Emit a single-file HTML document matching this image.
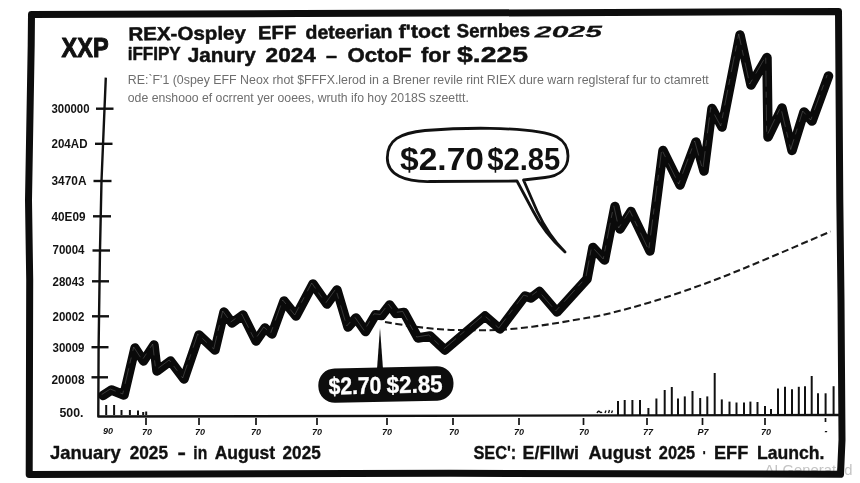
<!DOCTYPE html>
<html lang="en"><head><meta charset="utf-8"><title>XRP ETF chart</title>
<style>
html,body{margin:0;padding:0;background:#fff;width:860px;height:483px;overflow:hidden;}
svg{display:block;}
.b{font-family:"Liberation Sans",sans-serif;font-weight:bold;fill:#111;}
.g{font-family:"Liberation Sans",sans-serif;fill:#6e6e6e;}
.yl{font-family:"Liberation Sans",sans-serif;font-weight:bold;fill:#141414;font-size:12px;}
.xl{font-family:"Liberation Sans",sans-serif;font-weight:bold;font-style:italic;fill:#111;font-size:9px;}
</style></head><body>
<svg width="860" height="483" viewBox="0 0 860 483">
<rect width="860" height="483" fill="#fff"/>

<!-- watermark (under frame) -->
<text x="764.5" y="475" font-family="Liberation Sans, sans-serif" font-size="14" fill="#c4c4c4" textLength="88" lengthAdjust="spacingAndGlyphs">AI Generated</text>
<!-- frame -->
<path d="M31.5,14.5 L300,13.6 L560,12.7 L838.5,11.5 L839.8,200 L841,300 L842,440 L840.5,474.3 L450,473.3 L29.2,474.5 L29.7,280 L28.5,200 L31.2,45 Z" fill="none" stroke="#0d0d0d" stroke-width="7" stroke-linejoin="round"/>

<!-- titles -->
<text class="b" x="61.6" y="57.3" font-size="28.5" textLength="47" lengthAdjust="spacingAndGlyphs" stroke="#111" stroke-width="1.1" stroke-linejoin="round">XXP</text>
<g transform="rotate(-0.55 128 41)">
<text class="b" y="40.5" font-size="19" stroke="#111" stroke-width="0.5" stroke-linejoin="round"><tspan x="128.4" textLength="117.6" lengthAdjust="spacingAndGlyphs">REX-Ospley</tspan> <tspan x="258" textLength="38.3" lengthAdjust="spacingAndGlyphs">EFF</tspan> <tspan x="305.5" textLength="87" lengthAdjust="spacingAndGlyphs">deteerian</tspan> <tspan x="398.8" textLength="51.2" lengthAdjust="spacingAndGlyphs">f'toct</tspan> <tspan x="456.8" textLength="73.2" lengthAdjust="spacingAndGlyphs">Sernbes</tspan> <tspan x="534.9" y="41.3" font-size="16" font-style="italic" stroke-width="0.2" textLength="67.1" lengthAdjust="spacingAndGlyphs">2025</tspan></text>
</g>
<text class="b" y="61.5" font-size="21" stroke="#111" stroke-width="0.5" stroke-linejoin="round"><tspan x="127.7" y="60.3" font-size="18.5" textLength="53" lengthAdjust="spacingAndGlyphs">iFFIPY</tspan> <tspan x="187.8" y="61.5" textLength="68" lengthAdjust="spacingAndGlyphs">Janury</tspan> <tspan x="265.6" textLength="50.2" lengthAdjust="spacingAndGlyphs">2024</tspan> <tspan x="326" textLength="11" lengthAdjust="spacingAndGlyphs">–</tspan> <tspan x="347.4" textLength="64.2" lengthAdjust="spacingAndGlyphs">OctoF</tspan> <tspan x="421" textLength="29.4" lengthAdjust="spacingAndGlyphs">for</tspan> <tspan x="457" font-size="22" textLength="71" lengthAdjust="spacingAndGlyphs">$.225</tspan></text>

<text class="g" x="127.8" y="84.3" font-size="12.4" textLength="581" lengthAdjust="spacingAndGlyphs">RE:`F'1 (0spey EFF Neox rhot $FFFX.lerod in a Brener revile rint RIEX dure warn reglsteraf fur to ctamrett</text>
<text class="g" x="127.8" y="101.5" font-size="12.4" textLength="341" lengthAdjust="spacingAndGlyphs">ode enshooo ef ocrrent yer ooees, wruth ifo hoy 2018S szeettt.</text>

<!-- y axis -->
<path d="M105.8,77.6 L101.5,181 L100,250 L98.6,347 L98.3,416.5 L840,415" fill="none" stroke="#111" stroke-width="2.4" stroke-linejoin="round"/>
<g stroke="#111" stroke-width="2.4">
<line x1="96" y1="108.7" x2="113.5" y2="108.7"/>
<line x1="95" y1="143.8" x2="112.5" y2="143.8"/>
<line x1="93.5" y1="181" x2="111.5" y2="181"/>
<line x1="93" y1="216.3" x2="111" y2="216.3"/>
<line x1="92.5" y1="250.5" x2="110" y2="250.5"/>
<line x1="92" y1="281.3" x2="109" y2="281.3"/>
<line x1="92" y1="316.3" x2="109" y2="316.3"/>
<line x1="91.5" y1="347.2" x2="108.5" y2="347.2"/>
<line x1="91.5" y1="377.3" x2="108" y2="377.3"/>
</g>
<g class="yl">
<text x="51.5" y="112.9" textLength="38" lengthAdjust="spacingAndGlyphs">300000</text>
<text x="51.5" y="148.4" textLength="36" lengthAdjust="spacingAndGlyphs">204AD</text>
<text x="51.5" y="185.4" textLength="35" lengthAdjust="spacingAndGlyphs">3470A</text>
<text x="51.5" y="220.9" textLength="34" lengthAdjust="spacingAndGlyphs">40E09</text>
<text x="52.5" y="254.4" textLength="32" lengthAdjust="spacingAndGlyphs">70004</text>
<text x="52.5" y="286.4" textLength="32" lengthAdjust="spacingAndGlyphs">28043</text>
<text x="52.5" y="320.9" textLength="32" lengthAdjust="spacingAndGlyphs">20002</text>
<text x="52.5" y="351.9" textLength="32" lengthAdjust="spacingAndGlyphs">30009</text>
<text x="51.5" y="384.4" textLength="33" lengthAdjust="spacingAndGlyphs">20008</text>
<text x="59.5" y="417.4" textLength="24" lengthAdjust="spacingAndGlyphs">500.</text>
</g>

<!-- x ticks -->
<g stroke="#111" stroke-width="1.7">
<line x1="146" y1="418" x2="146" y2="425"/>
<line x1="199" y1="418" x2="199" y2="425"/>
<line x1="256" y1="418" x2="256" y2="425"/>
<line x1="317" y1="418" x2="317" y2="425"/>
<line x1="387" y1="418" x2="387" y2="425"/>
<line x1="453" y1="418" x2="453" y2="425"/>
<line x1="519" y1="418" x2="519" y2="425"/>
<line x1="583.5" y1="418" x2="583.5" y2="425"/>
<line x1="647" y1="418" x2="647" y2="425"/>
<line x1="702.5" y1="418" x2="702.5" y2="425"/>
<line x1="765" y1="418" x2="765" y2="425"/>
<line x1="825.5" y1="418" x2="825.5" y2="422"/>
</g>
<g class="xl" text-anchor="middle">
<text x="108" y="433.5">90</text>
<text x="147" y="435">70</text>
<text x="200" y="435">70</text>
<text x="256" y="435">70</text>
<text x="317" y="435">70</text>
<text x="387" y="435">70</text>
<text x="454" y="435">70</text>
<text x="519" y="435">70</text>
<text x="584" y="435">70</text>
<text x="648" y="435">77</text>
<text x="703" y="435">P7</text>
<text x="766" y="435">70</text>
<text x="826" y="433.5">-</text>
</g>

<!-- volume bars -->
<g stroke="#111" stroke-width="2">
<line x1="106.2" y1="405" x2="106.2" y2="415"/>
<line x1="114.1" y1="405" x2="114.1" y2="415"/>
<line x1="121.5" y1="410" x2="121.5" y2="415"/>
<line x1="129.9" y1="410" x2="129.9" y2="415"/>
<line x1="138" y1="410.5" x2="138" y2="415"/>
<line x1="143.2" y1="412" x2="143.2" y2="415"/>
<line x1="146.2" y1="411.5" x2="146.2" y2="415"/>
<path d="M597,413 q1.5,-3 3,-1 q1,1 2,0 M605,413 l1,-2.5 M608.5,413 l1,-3 M611.5,413 l1,-2.5" fill="none" stroke-width="1.4"/>
<line x1="618" y1="401" x2="618" y2="415"/>
<line x1="624.7" y1="400" x2="624.7" y2="415"/>
<line x1="632.4" y1="400" x2="632.4" y2="415"/>
<line x1="640" y1="400" x2="640" y2="415"/>
<line x1="648.4" y1="408" x2="648.4" y2="415"/>
<line x1="656.4" y1="398.5" x2="656.4" y2="415"/>
<line x1="664.7" y1="390" x2="664.7" y2="415"/>
<line x1="671.8" y1="387" x2="671.8" y2="415"/>
<line x1="678" y1="398.5" x2="678" y2="415"/>
<line x1="684.8" y1="396.4" x2="684.8" y2="415"/>
<line x1="692.5" y1="391" x2="692.5" y2="415"/>
<line x1="700.2" y1="398" x2="700.2" y2="415"/>
<line x1="707.3" y1="396.4" x2="707.3" y2="415"/>
<line x1="714.7" y1="373" x2="714.7" y2="415"/>
<line x1="721.8" y1="399.4" x2="721.8" y2="415"/>
<line x1="729.5" y1="401.6" x2="729.5" y2="415"/>
<line x1="736.5" y1="402.5" x2="736.5" y2="415"/>
<line x1="744" y1="402.5" x2="744" y2="415"/>
<line x1="750.4" y1="401.6" x2="750.4" y2="415"/>
<line x1="757.5" y1="402" x2="757.5" y2="415"/>
<line x1="765" y1="406" x2="765" y2="415"/>
<line x1="771" y1="409" x2="771" y2="415"/>
<line x1="778" y1="388.4" x2="778" y2="415"/>
<line x1="785" y1="386.8" x2="785" y2="415"/>
<line x1="792" y1="389.3" x2="792" y2="415"/>
<line x1="798.8" y1="386.8" x2="798.8" y2="415"/>
<line x1="805" y1="386.2" x2="805" y2="415"/>
<line x1="811.7" y1="376" x2="811.7" y2="415"/>
<line x1="818" y1="393.3" x2="818" y2="415"/>
<line x1="825.6" y1="393.3" x2="825.6" y2="415"/>
<line x1="833.6" y1="386.2" x2="833.6" y2="415"/>
</g>

<!-- dashed trend -->
<path d="M385.0,322.0 C389.5,322.7 402.8,325.0 412.0,326.2 C421.2,327.4 430.7,328.6 440.0,329.3 C449.3,330.0 458.7,330.1 468.0,330.2 C477.3,330.3 486.8,330.4 496.0,330.0 C505.2,329.6 514.3,328.8 523.5,327.8 C532.7,326.8 541.8,325.4 551.0,324.0 C560.2,322.6 569.7,320.9 579.0,319.2 C588.3,317.5 594.2,317.1 607.0,314.0 C619.8,310.9 638.5,306.0 656.0,300.5 C673.5,295.0 693.4,288.0 712.0,281.0 C730.6,274.0 747.8,266.8 767.5,258.5 C787.2,250.2 820.0,236.0 830.5,231.5" fill="none" stroke="#1a1a1a" stroke-width="2.1" stroke-dasharray="7 3.5"/>

<!-- price line -->
<polyline fill="none" stroke="#0a0a0a" stroke-width="9.5" stroke-linejoin="round" stroke-linecap="round" points="103,395.5 111.5,390 124,395 135,348 143.5,361 154,345 157,371 170.5,361 184,379 199,335 215,350 224,312 232,323 243,315 256,341 265,328 272,334 284,301 296,316 313,284 327,304 337,290 348,327 356,318 365.5,331.6 375.4,314.8 381.6,315.5 389.7,305 396,313.6 404,312.4 418,338 430,336 445,350 485,316 500,329 525,296 531,298 539.5,291.5 557,312 587,279 593,247.5 604.5,260 615,206.5 620,229 631,211.5 650,251 663,150.5 680,185 696,142 704,171 712,108.5 722,127 740,35 751,85 767,57.5 768,137 782,108 792,150.5 804,112 812,121 828.5,76"/>
<polyline fill="none" stroke="#9a9a9a" stroke-opacity="0.45" stroke-width="0.7" stroke-dasharray="16 5 6 7" stroke-linejoin="round" transform="translate(-1.3,-1)" points="103,395.5 111.5,390 124,395 135,348 143.5,361 154,345 157,371 170.5,361 184,379 199,335 215,350 224,312 232,323 243,315 256,341 265,328 272,334 284,301 296,316 313,284 327,304 337,290 348,327 356,318 365.5,331.6 375.4,314.8 381.6,315.5 389.7,305 396,313.6 404,312.4 418,338 430,336 445,350 485,316 500,329 525,296 531,298 539.5,291.5 557,312 587,279 593,247.5 604.5,260 615,206.5 620,229 631,211.5 650,251 663,150.5 680,185 696,142 704,171 712,108.5 722,127 740,35 751,85 767,57.5 768,137 782,108 792,150.5 804,112 812,121 828.5,76"/>

<!-- speech bubble -->
<path d="M387.3,158 C387.3,140 400,133 425,130.5 C450,128.5 470,128 490,128.3 C520,129 545,131 557,137 C566,142 568,149 568,156 C568,168 560,176 545,177.5 L523.5,180 L537,211 C545,228 553,240 565,252 C552,240 541,227 533,211 L517,181 L430,181.5 C405,182 387.3,175 387.3,158 Z" fill="#fff" stroke="#111" stroke-width="2.8" stroke-linejoin="round"/>
<text class="b" y="170" font-size="31"><tspan x="400" textLength="84" lengthAdjust="spacingAndGlyphs">$2.70</tspan> <tspan x="487.3" textLength="73" lengthAdjust="spacingAndGlyphs">$2.85</tspan></text>

<!-- black pill -->
<path d="M380,328 L383,369 L377,369 Z" fill="#0d0d0d"/>
<g transform="rotate(-1.2 386 384.5)">
<rect x="318.3" y="367.3" width="135.2" height="34.4" rx="16.5" ry="16.5" fill="#0d0d0d"/>
<text y="393.3" font-family="Liberation Sans, sans-serif" font-weight="bold" font-size="24" fill="#fff" stroke="#fff" stroke-width="0.4"><tspan x="328.6" textLength="52.8" lengthAdjust="spacingAndGlyphs">$2.70</tspan> <tspan x="386.7" textLength="55.9" lengthAdjust="spacingAndGlyphs">$2.85</tspan></text>
</g>

<!-- bottom captions -->
<g class="b" font-size="18.5" stroke="#111" stroke-width="0.35">
<text y="459"><tspan x="50" textLength="70.7" lengthAdjust="spacingAndGlyphs">January</tspan> <tspan x="129.7" textLength="38.3" lengthAdjust="spacingAndGlyphs">2025</tspan> <tspan x="177.4" textLength="8.4" lengthAdjust="spacingAndGlyphs">-</tspan> <tspan x="193.3" textLength="13.9" lengthAdjust="spacingAndGlyphs">in</tspan> <tspan x="214.7" textLength="60.4" lengthAdjust="spacingAndGlyphs">August</tspan> <tspan x="282.6" textLength="38.1" lengthAdjust="spacingAndGlyphs">2025</tspan></text>
<text y="458.5"><tspan x="473.4" textLength="42.9" lengthAdjust="spacingAndGlyphs">SEC':</tspan> <tspan x="522.6" textLength="56.4" lengthAdjust="spacingAndGlyphs">E/FIIwi</tspan> <tspan x="588.5" textLength="62.5" lengthAdjust="spacingAndGlyphs">August</tspan> <tspan x="658.8" textLength="36.4" lengthAdjust="spacingAndGlyphs">2025</tspan> <tspan x="702.5" textLength="4" lengthAdjust="spacingAndGlyphs">·</tspan> <tspan x="714" textLength="34.3" lengthAdjust="spacingAndGlyphs">EFF</tspan> <tspan x="757" textLength="67.5" lengthAdjust="spacingAndGlyphs">Launch.</tspan></text>
</g>
</svg>
</body></html>
